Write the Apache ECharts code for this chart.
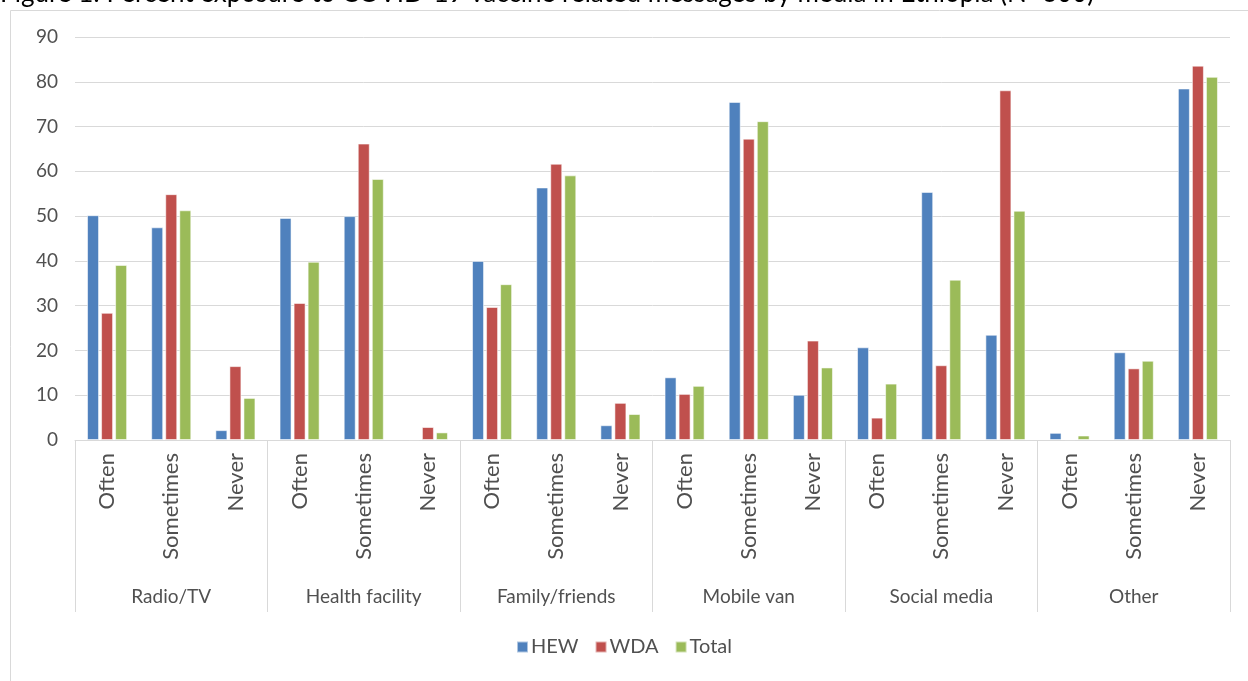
<!DOCTYPE html>
<html>
<head>
<meta charset="utf-8">
<script src="https://cdn.jsdelivr.net/npm/echarts@6/dist/echarts.min.js"></script>
<style>
  html, body { margin: 0; padding: 0; background: #fff; }
  #chart { width: 1248px; height: 681px; }
</style>
</head>
<body>
<div id="chart"></div>
<script>
// Media channels (outer axis level) and exposure frequency (inner level)
const media = ['Radio/TV', 'Health facility', 'Family/friends', 'Mobile van', 'Social media', 'Other'];
const frequency = ['Often', 'Sometimes', 'Never'];

// Percent exposure, in order: media × frequency
const hew   = [50.2, 47.5, 2.2,  49.6, 50.0, 0.2,  40.0, 56.4, 3.3,  14.0, 75.5, 10.1,  20.7, 55.4, 23.5,  1.6, 19.6, 78.5];
const wda   = [28.4, 54.9, 16.5, 30.6, 66.2, 2.9,  29.7, 61.7, 8.3,  10.3, 67.3, 22.2,  5.0, 16.7, 78.1,   0.2, 16.0, 83.6];
const total = [39.1, 51.3, 9.4,  39.8, 58.3, 1.7,  34.8, 59.1, 5.8,  12.1, 71.2, 16.2,  12.6, 35.8, 51.2,  1.0, 17.7, 81.1];

const seriesNames = ['HEW', 'WDA', 'Total'];
const yTicks = { min: 0, max: 90, step: 10 };

const innerLabels = [];
media.forEach(() => frequency.forEach(f => innerLabels.push(f)));

const FONT = 'Lato, "Open Sans", sans-serif';
const GREY = '#d9d9d9';
const TEXT = '#505050';

const chart = echarts.init(document.getElementById('chart'));

function barSeries(name, data, color) {
  return {
    name: name,
    type: 'bar',
    xAxisIndex: 0,
    data: data,
    barWidth: 12,
    barGap: '17%',
    itemStyle: { color: color, borderColor: 'rgba(255,255,255,0.55)', borderWidth: 1 },
    emphasis: { disabled: true }
  };
}

chart.setOption({
  animation: false,
  textStyle: { fontFamily: FONT },
  graphic: [
    {
      type: 'rect',
      shape: { x: 10.5, y: 10.5, width: 1300, height: 720 },
      style: { fill: 'none', stroke: GREY, lineWidth: 1 },
      silent: true, z: -10
    },
    {
      type: 'text',
      x: 0, y: 7,
      style: {
        text: 'Figure 1: Percent exposure to COVID-19 vaccine related messages by media in Ethiopia (N=600)',
        font: '26px ' + FONT,
        fill: '#000',
        verticalAlign: 'bottom'
      },
      silent: true
    }
  ],
  grid: { left: 75, right: 18, top: 37, bottom: 241, containLabel: false },
  legend: {
    data: seriesNames,
    bottom: 19,
    left: 'center',
    itemWidth: 11,
    itemHeight: 11,
    itemGap: 16,
    icon: 'rect',
    textStyle: { color: TEXT, fontSize: 20, fontFamily: FONT, padding: [0, 0, 0, -2] }
  },
  xAxis: [
    {
      type: 'category',
      position: 'bottom',
      data: innerLabels,
      axisLine: { lineStyle: { color: GREY, width: 1 } },
      axisTick: { show: false },
      axisLabel: { rotate: 90, interval: 0, margin: 13, color: TEXT, fontSize: 22, fontFamily: FONT },
      splitLine: { show: false }
    },
    {
      type: 'category',
      position: 'bottom',
      data: media,
      axisLine: { show: false },
      axisTick: { show: true, length: 172, lineStyle: { color: GREY, width: 1 } },
      axisLabel: { interval: 0, margin: 147, color: TEXT, fontSize: 19, fontFamily: FONT },
      splitLine: { show: false }
    }
  ],
  yAxis: {
    type: 'value',
    min: yTicks.min,
    max: yTicks.max,
    interval: yTicks.step,
    axisLine: { show: false },
    axisTick: { show: false },
    axisLabel: { margin: 17, color: TEXT, fontSize: 19, fontFamily: FONT },
    splitLine: { lineStyle: { color: GREY, width: 1 } }
  },
  series: [
    barSeries(seriesNames[0], hew, '#4f81bd'),
    barSeries(seriesNames[1], wda, '#c0504d'),
    barSeries(seriesNames[2], total, '#9bbb59')
  ]
});
</script>
</body>
</html>
